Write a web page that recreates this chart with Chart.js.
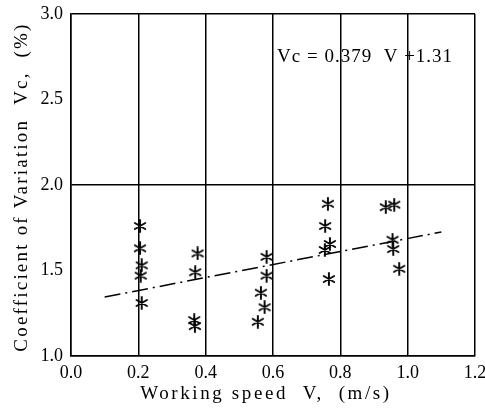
<!DOCTYPE html>
<html>
<head>
<meta charset="utf-8">
<script src="https://cdn.jsdelivr.net/npm/chart.js@4.4.0/dist/chart.umd.min.js"></script>
<style>
  html,body{margin:0;padding:0;background:#fff;}
  #wrap{width:485px;height:410px;}
</style>
</head>
<body>
<div id="wrap"><canvas id="cv" width="485" height="410"></canvas></div>
<script>
// ================= DATA =================
const speedV = [0.205,0.205,0.21,0.207,0.21, 0.376,0.369,0.366,0.368, 0.581,0.581,0.564,0.575,0.555, 0.763,0.755,0.769,0.754,0.766, 0.935,0.96,0.955,0.957,0.975];
const cvVc   = [1.76,1.63,1.53,1.47,1.31, 1.60,1.49,1.21,1.175, 1.58,1.47,1.37,1.285,1.20, 1.89,1.76,1.655,1.62,1.45, 1.87,1.885,1.68,1.625,1.51];
const lineV  = [0.1, 1.1];
const lineVc = [1.345, 1.725];
const xTicks = [0.0,0.2,0.4,0.6,0.8,1.0,1.2];
const yTicks = [1.0,1.5,2.0,2.5,3.0];
const eqText = "Vc = 0.379  V +1.31";
const xTitle = "Working speed  V,  (m/s)";
const yTitle = "Coefficient of Variation  Vc,  (%)";

const SERIF = "'Liberation Serif','DejaVu Serif',serif";

// ================= HELPERS =================
function asterisk(size){
    const c = document.createElement("canvas");
    c.width = size; c.height = size;
    const g = c.getContext("2d");
    const r = size/2 - 1, m = size/2;
    g.strokeStyle = "#000"; g.lineWidth = 1.9; g.lineCap = "round";
    g.beginPath();
    for(const a of [90, 30, -30]){
        const dx = Math.cos(a*Math.PI/180)*r, dy = Math.sin(a*Math.PI/180)*r;
        g.moveTo(m-dx, m-dy); g.lineTo(m+dx, m+dy);
    }
    g.stroke();
    return c;
}

const pts = speedV.map((v,i)=>({x:v, y:cvVc[i]}));
const reg = lineV.map((v,i)=>({x:v, y:lineVc[i]}));

// titles + equation drawn with letter spacing
const textPlugin = {
    id:"texts",
    afterDraw(chart){
        const {ctx, scales:{x, y}} = chart;
        ctx.save();
        ctx.fillStyle = "#000";
        ctx.font = "19px " + SERIF;
        ctx.textBaseline = "middle";
        ctx.textAlign = "left";
        ctx.letterSpacing = "1px";
        ctx.fillText(eqText, x.getPixelForValue(0.612), y.getPixelForValue(2.75));

        ctx.font = "19px " + SERIF;
        ctx.textAlign = "center";
        ctx.letterSpacing = "2.6px";
        ctx.fillText(xTitle, 266, 394);
        ctx.translate(22, 187);
        ctx.rotate(-Math.PI/2);
        ctx.letterSpacing = "2.2px";
        ctx.fillText(yTitle, 0, 0);
        ctx.restore();
    }
};

// ================= CHART =================
new Chart(document.getElementById("cv").getContext("2d"), {
    type:"scatter",
    data:{datasets:[
        {data:pts, pointStyle:asterisk(14), pointRadius:7, showLine:false},
        {data:reg, showLine:true, borderColor:"#000", borderWidth:1.5, borderDash:[16,5,2,5], pointRadius:0, fill:false}
    ]},
    options:{
        responsive:false, animation:false,
        layout:{padding:{top:14, right:10, left:0, bottom:0}},
        plugins:{legend:{display:false}, tooltip:{enabled:false}},
        scales:{
            x:{
                type:"linear", min:0, max:1.2,
                afterBuildTicks:s=>{ s.ticks = xTicks.map(v=>({value:v})); },
                afterFit:s=>{ s.height = 54; s.paddingLeft = 0; s.paddingRight = 0; },
                ticks:{color:"#000", font:{family:SERIF, size:18}, padding:6, maxRotation:0, autoSkip:false, callback:v=>v.toFixed(1)},
                grid:{color:"#000", lineWidth:1.5, drawTicks:false},
                border:{color:"#000", width:1.5}
            },
            y:{
                type:"linear", min:1, max:3,
                afterBuildTicks:s=>{ s.ticks = yTicks.map(v=>({value:v})); },
                afterFit:s=>{ s.width = 71; s.paddingTop = 0; s.paddingBottom = 0; },
                ticks:{color:"#000", font:{family:SERIF, size:18}, padding:8, callback:v=>v.toFixed(1)},
                grid:{color:c=>([1,2,3].includes(c.tick.value) ? "#000" : "rgba(0,0,0,0)"), lineWidth:1.5, drawTicks:false},
                border:{color:"#000", width:1.5}
            }
        }
    },
    plugins:[textPlugin]
});
</script>
</body>
</html>
